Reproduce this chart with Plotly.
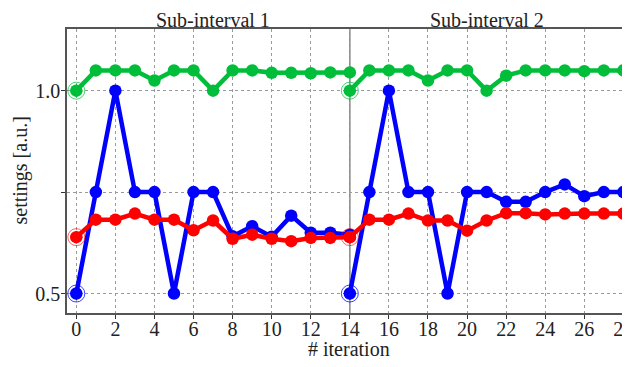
import plotly.graph_objects as go

# ---- data ----
iter1 = list(range(0, 15))
iter2 = list(range(14, 29))

blue1 = [0.5, 0.75, 1.0, 0.75, 0.75, 0.5, 0.75, 0.75, 0.641, 0.666, 0.64, 0.692, 0.65, 0.65, 0.645]
red1 = [0.639, 0.682, 0.682, 0.697, 0.682, 0.682, 0.656, 0.68, 0.635, 0.645, 0.635, 0.629, 0.637, 0.637, 0.639]
green1 = [1.0, 1.05, 1.05, 1.05, 1.025, 1.05, 1.05, 1.0, 1.05, 1.05, 1.044, 1.044, 1.043, 1.045, 1.045]

blue2 = [0.5, 0.75, 1.0, 0.75, 0.75, 0.5, 0.75, 0.75, 0.726, 0.726, 0.75, 0.769, 0.74, 0.75, 0.75]
red2 = [0.639, 0.682, 0.682, 0.697, 0.68, 0.68, 0.655, 0.68, 0.698, 0.698, 0.695, 0.697, 0.697, 0.697, 0.697]
green2 = [1.0, 1.05, 1.05, 1.05, 1.025, 1.05, 1.05, 1.0, 1.037, 1.05, 1.05, 1.05, 1.048, 1.05, 1.05]

titles = ["Sub-interval 1", "Sub-interval 2"]
xticks = list(range(0, 29, 2))
yticks = [0.5, 0.75, 1.0]
yticklabels = ["0.5", "", "1.0"]

colors = {"blue": "#0000FF", "red": "#FF0000", "green": "#00BE3A"}
faint = {"blue": "rgba(0,0,255,0.75)", "red": "rgba(255,0,0,0.6)", "green": "rgba(0,190,58,0.7)"}

FONT = "'Liberation Serif', 'DejaVu Serif', serif"

fig = go.Figure()

intervals = [
    (iter1, [("blue", blue1), ("red", red1), ("green", green1)]),
    (iter2, [("blue", blue2), ("red", red2), ("green", green2)]),
]

for xs, series in intervals:
    for name, ys in series:
        fig.add_trace(go.Scatter(
            x=xs, y=ys, mode="lines+markers",
            line=dict(color=colors[name], width=4.5),
            marker=dict(color=colors[name], size=12.5),
            showlegend=False, hoverinfo="skip"))
        # start marker: open circle + small diamond
        fig.add_trace(go.Scatter(
            x=[xs[0]], y=[ys[0]], mode="markers",
            marker=dict(symbol="circle-open", size=17, color=faint[name], line=dict(width=1)),
            showlegend=False, hoverinfo="skip"))
        fig.add_trace(go.Scatter(
            x=[xs[0]], y=[ys[0]], mode="markers",
            marker=dict(symbol="diamond", size=10, color=colors[name]),
            showlegend=False, hoverinfo="skip"))

# separator between sub-intervals
fig.add_vline(x=iter2[0], line=dict(color="#8a8a8a", width=1.6), layer="below")

for i, (xs, _) in enumerate(intervals):
    fig.add_annotation(x=(xs[0] + xs[-1]) / 2, y=1, xref="x", yref="paper",
                       yanchor="bottom", yshift=-4, showarrow=False,
                       text=titles[i], font=dict(family=FONT, size=20, color="#222"))

fig.add_annotation(x=0.5, y=0, xref="paper", yref="paper", yanchor="top", yshift=-23,
                   showarrow=False, text="# iteration",
                   font=dict(family=FONT, size=20, color="#222"))
fig.add_annotation(x=0, y=0.5, xref="paper", yref="paper", xanchor="right", xshift=-34,
                   showarrow=False, text="settings [a.u.]", textangle=-90,
                   font=dict(family=FONT, size=20, color="#222"))

axis_common = dict(showgrid=True, gridcolor="#9a9a9a", griddash="dot", gridwidth=1,
                   showline=True, linecolor="#555", linewidth=1.5, mirror=True,
                   ticks="outside", ticklen=4, tickcolor="#333", zeroline=False,
                   automargin=False, ticklabeloverflow="allow",
                   tickfont=dict(family=FONT, size=20, color="#222"))

fig.update_xaxes(range=[-0.476, 28.34], tickvals=xticks, ticklabelstandoff=-7, **axis_common)
fig.update_yaxes(range=[0.452, 1.152], tickvals=yticks, ticktext=yticklabels,
                 ticklabelstandoff=-3, **axis_common)

# page body has an 8px margin, so the figure is sized to fit the rest of the window
fig.update_layout(
    width=622, height=351,
    margin=dict(l=59, r=0, t=21, b=46, autoexpand=False),
    plot_bgcolor="white", paper_bgcolor="white",
    showlegend=False,
    font=dict(family=FONT),
)

fig.write_html("out.html")
